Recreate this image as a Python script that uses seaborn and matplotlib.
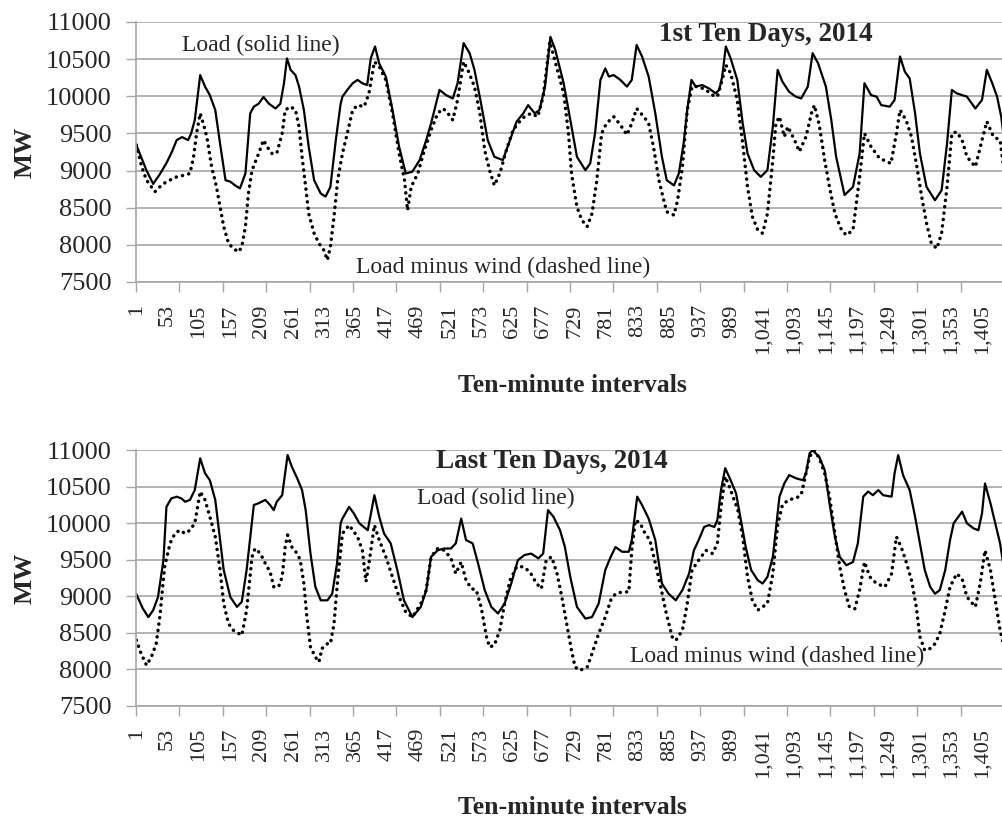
import numpy as np
import pandas as pd
import matplotlib
matplotlib.use("Agg")
import matplotlib.pyplot as plt
import seaborn as sns
from matplotlib.ticker import FixedLocator, FuncFormatter

# ---------------- data (interval index, MW) ----------------
top_load_x = [1, 18, 29, 40, 51, 60, 68, 77, 87, 92, 98, 107, 115, 123, 132, 140, 149, 157, 165, 173, 182, 190, 196, 204, 212, 221, 232, 240, 246, 251, 257, 265, 271, 279, 287, 296, 307, 315, 323, 332, 340, 343, 351, 360, 368, 376, 384, 390, 397, 404, 415, 426, 437, 448, 459, 471, 482, 490, 504, 515, 526, 534, 544, 554, 562, 573, 584, 595, 609, 621, 632, 643, 651, 662, 670, 679, 688, 696, 710, 721, 732, 746, 754, 762, 771, 779, 785, 793, 804, 815, 823, 831, 840, 851, 862, 873, 881, 893, 901, 909, 915, 922, 929, 940, 951, 962, 968, 973, 979, 987, 998, 1007, 1015, 1026, 1037, 1048, 1057, 1065, 1073, 1084, 1095, 1104, 1115, 1123, 1132, 1145, 1154, 1162, 1176, 1190, 1201, 1209, 1220, 1229, 1237, 1251, 1259, 1268, 1276, 1284, 1293, 1301, 1312, 1326, 1337, 1346, 1354, 1362, 1371, 1379, 1393, 1404, 1412, 1421, 1429, 1436, 1440]
top_load_y = [9345, 9000, 8820, 8950, 9100, 9250, 9410, 9450, 9410, 9500, 9680, 10285, 10130, 10015, 9815, 9360, 8870, 8850, 8800, 8760, 8960, 9770, 9860, 9900, 9990, 9900, 9835, 9900, 10175, 10510, 10355, 10285, 10130, 9815, 9320, 8870, 8690, 8650, 8780, 9410, 9900, 9995, 10085, 10175, 10220, 10175, 10150, 10510, 10670, 10440, 10265, 9815, 9320, 8960, 8985, 9140, 9410, 9635, 10085, 10015, 9970, 10175, 10715, 10580, 10355, 9900, 9410, 9185, 9140, 9410, 9660, 9770, 9880, 9770, 9815, 10130, 10800, 10625, 10175, 9680, 9185, 9005, 9095, 9500, 10220, 10375, 10265, 10285, 10220, 10130, 10220, 10690, 10535, 10265, 9770, 9185, 8870, 8800, 8960, 9365, 9815, 10220, 10130, 10150, 10105, 10040, 10085, 10265, 10670, 10510, 10220, 9635, 9230, 9005, 8915, 9005, 9590, 10355, 10195, 10060, 9995, 9970, 10130, 10580, 10445, 10130, 9680, 9185, 8670, 8780, 9230, 10175, 10015, 9995, 9880, 9860, 9950, 10535, 10330, 10240, 9770, 9230, 8780, 8600, 8735, 9365, 10085, 10040, 10015, 9995, 9835, 9950, 10355, 10175, 9995, 9720, 9450]

top_net_x = [1, 10, 18, 32, 40, 51, 68, 82, 90, 96, 101, 107, 112, 118, 126, 134, 140, 146, 154, 162, 171, 176, 182, 187, 193, 204, 212, 218, 226, 234, 243, 248, 257, 265, 271, 276, 282, 287, 296, 304, 312, 318, 323, 329, 335, 343, 351, 360, 368, 379, 387, 396, 404, 415, 426, 437, 446, 451, 457, 468, 479, 490, 501, 510, 518, 526, 534, 544, 551, 562, 571, 579, 587, 595, 604, 615, 626, 637, 645, 656, 667, 676, 687, 698, 710, 718, 723, 732, 740, 749, 757, 765, 773, 781, 793, 804, 815, 823, 831, 843, 851, 859, 868, 876, 881, 893, 899, 907, 915, 923, 934, 946, 957, 965, 973, 979, 987, 998, 1007, 1015, 1023, 1032, 1040, 1048, 1057, 1062, 1068, 1076, 1082, 1093, 1101, 1112, 1121, 1126, 1134, 1143, 1151, 1160, 1171, 1179, 1190, 1201, 1209, 1220, 1234, 1253, 1262, 1268, 1278, 1287, 1296, 1304, 1312, 1320, 1329, 1337, 1346, 1354, 1362, 1371, 1379, 1393, 1404, 1412, 1423, 1434, 1440]
top_net_y = [9345, 9050, 8870, 8715, 8780, 8850, 8915, 8940, 8960, 9185, 9500, 9770, 9635, 9455, 9050, 8780, 8510, 8245, 8020, 7950, 7905, 7975, 8245, 8690, 9005, 9230, 9410, 9320, 9230, 9230, 9500, 9815, 9860, 9815, 9590, 9185, 8780, 8420, 8155, 8020, 7930, 7795, 7975, 8380, 8870, 9230, 9500, 9815, 9880, 9860, 10040, 10465, 10400, 10220, 9770, 9230, 8870, 8465, 8780, 8960, 9275, 9545, 9770, 9835, 9770, 9680, 9950, 10465, 10355, 10130, 9770, 9275, 9005, 8800, 8960, 9275, 9545, 9660, 9725, 9770, 9725, 9995, 10735, 10400, 10040, 9500, 8960, 8510, 8335, 8245, 8420, 8870, 9500, 9635, 9725, 9615, 9480, 9635, 9835, 9725, 9635, 9320, 8870, 8600, 8445, 8400, 8600, 9050, 9815, 10130, 10130, 10085, 10015, 9995, 10220, 10420, 10310, 9950, 9365, 8780, 8380, 8200, 8155, 8420, 9140, 9635, 9725, 9455, 9590, 9410, 9255, 9455, 9770, 9880, 9615, 9140, 8780, 8420, 8200, 8130, 8200, 8915, 9500, 9320, 9165, 9095, 9500, 9815, 9680, 9455, 9050, 8645, 8290, 8020, 7950, 8155, 8780, 9500, 9520, 9410, 9185, 9050, 9410, 9660, 9455, 9410, 9030]

bot_load_x = [1, 12, 21, 29, 37, 46, 51, 59, 68, 76, 82, 90, 98, 107, 115, 123, 132, 140, 146, 157, 168, 176, 184, 196, 204, 215, 223, 229, 234, 243, 252, 259, 268, 276, 282, 290, 298, 307, 318, 326, 334, 340, 343, 354, 362, 371, 385, 396, 404, 412, 423, 434, 445, 459, 473, 482, 490, 501, 512, 523, 531, 540, 548, 559, 568, 579, 590, 601, 612, 623, 634, 645, 656, 668, 676, 684, 693, 704, 712, 721, 732, 746, 757, 768, 779, 788, 796, 807, 818, 823, 832, 840, 851, 862, 873, 884, 896, 907, 918, 926, 934, 943, 951, 960, 965, 971, 978, 987, 996, 1004, 1012, 1021, 1032, 1040, 1048, 1057, 1068, 1076, 1084, 1096, 1107, 1112, 1118, 1123, 1134, 1143, 1151, 1160, 1168, 1179, 1190, 1198, 1207, 1215, 1223, 1232, 1240, 1254, 1259, 1265, 1273, 1284, 1293, 1301, 1309, 1318, 1326, 1334, 1343, 1351, 1357, 1365, 1371, 1379, 1390, 1398, 1404, 1409, 1418, 1426, 1434, 1440]
bot_load_y = [9030, 8830, 8715, 8810, 8990, 9495, 10225, 10340, 10365, 10340, 10295, 10320, 10455, 10890, 10685, 10590, 10320, 9770, 9360, 8990, 8855, 8925, 9360, 10250, 10275, 10320, 10250, 10180, 10295, 10385, 10935, 10775, 10615, 10455, 10180, 9585, 9130, 8945, 8945, 9035, 9450, 10000, 10065, 10225, 10135, 10000, 9905, 10385, 10090, 9860, 9725, 9360, 8945, 8715, 8855, 9085, 9540, 9630, 9655, 9655, 9725, 10065, 9770, 9725, 9450, 9085, 8855, 8765, 8900, 9175, 9495, 9565, 9585, 9520, 9585, 10180, 10090, 9905, 9675, 9265, 8855, 8695, 8715, 8900, 9360, 9540, 9675, 9610, 9610, 9770, 10365, 10250, 10065, 9770, 9175, 9035, 8945, 9085, 9310, 9630, 9770, 9950, 9975, 9950, 10045, 10455, 10755, 10590, 10410, 10045, 9675, 9360, 9220, 9175, 9265, 9540, 10365, 10545, 10660, 10615, 10590, 10685, 10960, 11000, 10910, 10730, 10275, 9815, 9540, 9425, 9470, 9725, 10365, 10435, 10385, 10455, 10385, 10365, 10685, 10935, 10660, 10455, 10090, 9725, 9360, 9130, 9035, 9085, 9360, 9770, 10000, 10090, 10160, 10000, 9930, 9905, 10135, 10545, 10275, 10000, 9725, 9405]

bot_net_x = [1, 9, 18, 26, 34, 40, 48, 57, 65, 73, 82, 90, 98, 107, 115, 123, 132, 140, 146, 154, 162, 176, 184, 193, 198, 207, 215, 223, 229, 237, 243, 248, 252, 259, 268, 273, 279, 284, 290, 298, 304, 309, 318, 323, 329, 335, 343, 354, 368, 376, 382, 387, 396, 404, 415, 426, 437, 448, 459, 473, 482, 490, 501, 512, 523, 531, 540, 548, 557, 565, 573, 582, 587, 595, 604, 612, 621, 632, 643, 654, 665, 673, 681, 690, 699, 707, 715, 723, 729, 737, 749, 757, 768, 779, 788, 796, 807, 818, 823, 829, 837, 845, 853, 862, 871, 879, 890, 896, 907, 915, 923, 934, 946, 957, 965, 971, 978, 987, 999, 1007, 1015, 1023, 1032, 1040, 1048, 1057, 1065, 1073, 1084, 1096, 1104, 1109, 1118, 1126, 1134, 1143, 1151, 1160, 1168, 1176, 1184, 1193, 1201, 1209, 1218, 1229, 1243, 1254, 1262, 1270, 1279, 1287, 1295, 1301, 1309, 1318, 1326, 1334, 1343, 1351, 1362, 1371, 1379, 1393, 1401, 1409, 1418, 1426, 1434, 1440]
bot_net_y = [8400, 8215, 8055, 8170, 8350, 8715, 9405, 9725, 9860, 9905, 9860, 9905, 10000, 10435, 10320, 10090, 9815, 9360, 8900, 8625, 8535, 8465, 8810, 9540, 9655, 9585, 9450, 9335, 9130, 9130, 9265, 9675, 9840, 9675, 9585, 9495, 9175, 8715, 8305, 8170, 8100, 8285, 8350, 8350, 8625, 9220, 9860, 9975, 9815, 9630, 9200, 9450, 9975, 9770, 9540, 9265, 8990, 8785, 8715, 8900, 9085, 9540, 9655, 9630, 9520, 9310, 9470, 9220, 9105, 9085, 8855, 8445, 8305, 8330, 8535, 8900, 9220, 9405, 9405, 9335, 9175, 9105, 9495, 9540, 9310, 8990, 8625, 8260, 8030, 7985, 8030, 8215, 8490, 8715, 8945, 9035, 9060, 9060, 9630, 10045, 10000, 9860, 9770, 9450, 9130, 8810, 8445, 8395, 8535, 8900, 9360, 9495, 9630, 9585, 9725, 10225, 10640, 10455, 10180, 9815, 9265, 8945, 8810, 8855, 8900, 9310, 9980, 10255, 10325, 10345, 10390, 10570, 10915, 11000, 10890, 10685, 10365, 9860, 9405, 9085, 8855, 8830, 9085, 9470, 9265, 9175, 9130, 9310, 9815, 9675, 9450, 9220, 8855, 8445, 8260, 8285, 8350, 8490, 8810, 9130, 9310, 9240, 8990, 8855, 9175, 9630, 9360, 8945, 8535, 8330]

x_tick_values = list(range(1, 1441, 52))          # labelled categories
x_mark_values = [0.5 + 72 * k for k in range(21)]   # tick marks every 72 categories (half a day)
y_tick_values = [7500, 8000, 8500, 9000, 9500, 10000, 10500, 11000]

panel_titles = ["1st Ten Days, 2014", "Last Ten Days, 2014"]
load_label = "Load (solid line)"
net_label = "Load minus wind (dashed line)"
x_label = "Ten-minute intervals"
y_label = "MW"

# ---------------- style ----------------
sns.set_theme(style="white")
plt.rcParams["font.family"] = ["Liberation Serif", "DejaVu Serif"]
GRID = "#a6a6a6"

fig = plt.figure(figsize=(10.03, 8.19), dpi=100)
AX_L, AX_W = 136 / 1003, 868 / 1003
ax1 = fig.add_axes([AX_L, 0.6557, AX_W, 0.3175])
ax2 = fig.add_axes([AX_L, 0.1382, AX_W, 0.3120])

def draw(ax, lx, ly, nx, ny):
    dl = pd.DataFrame({"interval": lx, "MW": ly})
    dn = pd.DataFrame({"interval": nx, "MW": ny})
    sns.lineplot(data=dl, x="interval", y="MW", ax=ax, color="black",
                 linewidth=1.6, sort=False, estimator=None)
    sns.lineplot(data=dn, x="interval", y="MW", ax=ax, color="black",
                 linewidth=2.5, linestyle=(0, (0.05, 1.8)),
                 dash_capstyle="round", sort=False, estimator=None)
    ax.set_xlim(0.5, 1440.5)
    ax.set_ylim(7500, 11000)
    ax.set_yticks(y_tick_values)
    ax.set_yticklabels([str(v) for v in y_tick_values], fontsize=19)
    ax.xaxis.set_major_locator(FixedLocator(x_tick_values))
    ax.xaxis.set_minor_locator(FixedLocator(x_mark_values))
    ax.xaxis.set_major_formatter(FuncFormatter(lambda v, p: f"{int(round(v)):,}"))
    ax.tick_params(axis="x", which="major", labelsize=16, labelrotation=90,
                   length=0, pad=16, bottom=True)
    ax.tick_params(axis="x", which="minor", direction="out", length=7,
                   width=1.0, color=GRID, bottom=True)
    ax.tick_params(axis="y", direction="out", length=7.5, width=1.0,
                   color=GRID, pad=10, left=True)
    ax.grid(axis="y", color=GRID, linewidth=1.2)
    ax.grid(axis="x", visible=False)
    ax.grid(axis="x", which="minor", visible=False)
    for s in ["top", "right"]:
        ax.spines[s].set_visible(False)
    for s in ["left", "bottom"]:
        ax.spines[s].set_color(GRID)
        ax.spines[s].set_linewidth(1.2)
    ax.set_xlabel("")
    ax.set_ylabel("")
    ax.set_axisbelow(True)

draw(ax1, top_load_x, top_load_y, top_net_x, top_net_y)
draw(ax2, bot_load_x, bot_load_y, bot_net_x, bot_net_y)

# annotations, top
ax1.text(77, 10690, load_label, fontsize=17, va="center", ha="left")
ax1.text(868, 10825, panel_titles[0], fontsize=19.5, fontweight="bold", va="center", ha="left")
ax1.text(366, 7700, net_label, fontsize=17, va="center", ha="left")
# annotations, bottom
ax2.text(499, 10840, panel_titles[1], fontsize=19.5, fontweight="bold", va="center", ha="left")
ax2.text(466, 10347, load_label, fontsize=17, va="center", ha="left")
ax2.text(820, 8170, net_label, fontsize=17, va="center", ha="left")

# axis titles
fig.text(0.025, 0.8144, y_label, rotation=90, fontsize=19, fontweight="bold", va="center", ha="center")
fig.text(0.025, 0.2943, y_label, rotation=90, fontsize=19, fontweight="bold", va="center", ha="center")
fig.text(0.5705, 1 - 386 / 819, x_label, fontsize=18.5, fontweight="bold", va="center", ha="center")
fig.text(0.5705, 1 - 807 / 819, x_label, fontsize=18.5, fontweight="bold", va="center", ha="center")

fig.savefig("out.png", dpi=100)
